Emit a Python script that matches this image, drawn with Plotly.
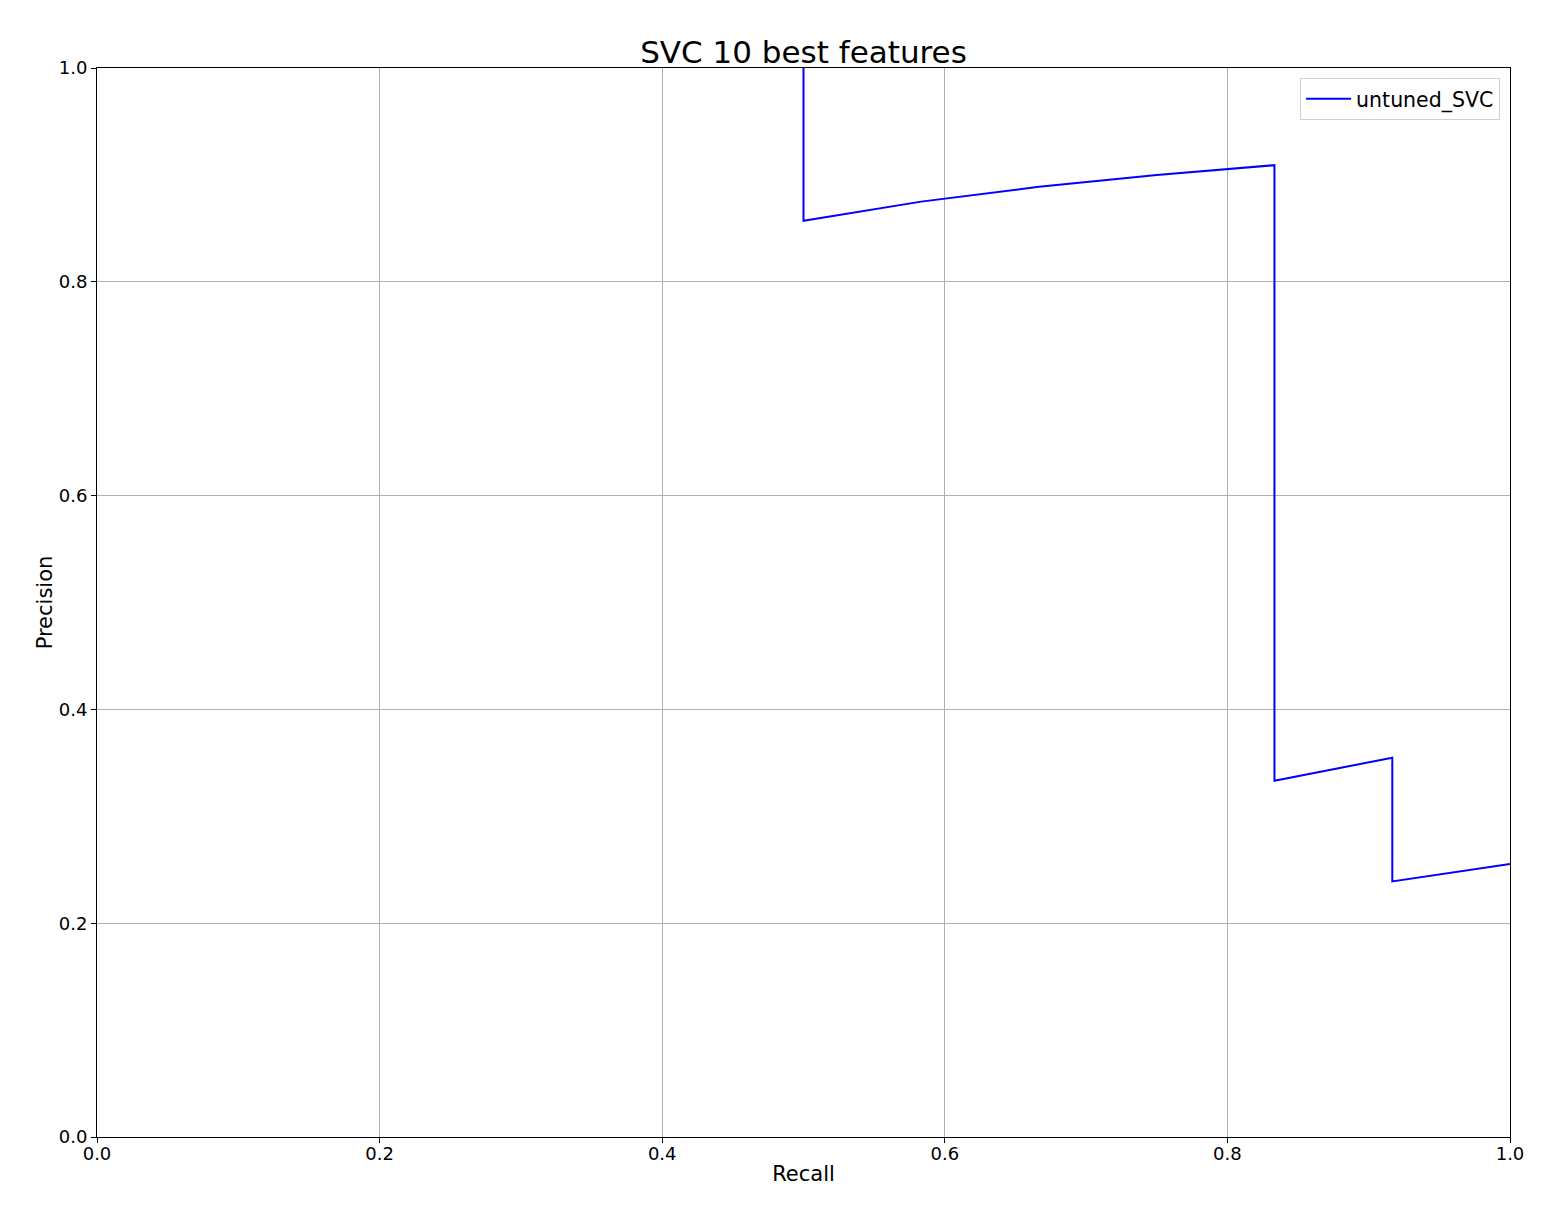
import plotly.graph_objects as go

# precision-recall points of the untuned SVC (12 positives)
recall = [1.0, 0.9167, 0.9167, 0.8333, 0.8333, 0.75, 0.6667, 0.5833, 0.5, 0.5]
precision = [0.2553, 0.2391, 0.3548, 0.3333, 0.9091, 0.9, 0.8889, 0.875, 0.8571, 1.0]

ticks = [0.0, 0.2, 0.4, 0.6, 0.8, 1.0]
tick_text = ["0.0", "0.2", "0.4", "0.6", "0.8", "1.0"]

fig = go.Figure()
fig.add_trace(go.Scatter(x=recall, y=precision, mode="lines", name="untuned_SVC",
                         line=dict(color="blue", width=2)))

axis_style = dict(range=[0, 1], tickvals=ticks, ticktext=tick_text,
                  showgrid=True, gridcolor="#b0b0b0", gridwidth=1,
                  showline=True, linecolor="black", linewidth=1, mirror=True,
                  ticks="outside", ticklen=5, tickcolor="black",
                  tickfont=dict(size=18, color="black"), zeroline=False)

fig.update_xaxes(title_text="Recall", title_font=dict(size=21, color="black"),
                 title_standoff=3, ticklabelstandoff=-5, **axis_style)
fig.update_yaxes(title_text="Precision", title_font=dict(size=21, color="black"),
                 title_standoff=0, **axis_style)

fig.update_layout(
    width=1561, height=1224,
    margin=dict(l=89, r=59, t=60, b=95),
    paper_bgcolor="white", plot_bgcolor="white",
    font=dict(family="DejaVu Sans", color="black"),
    title=dict(text="SVC 10 best features", x=0.5, xref="paper", xanchor="center",
               y=0.964, yref="container", yanchor="middle",
               font=dict(size=31, color="black")),
    showlegend=True,
    legend=dict(x=0.993, y=0.9906, xanchor="right", yanchor="top",
                bordercolor="#d0d0d0", borderwidth=1, bgcolor="white",
                itemwidth=45, font=dict(size=20.5, color="black")),
)

fig.write_html("out.html")
